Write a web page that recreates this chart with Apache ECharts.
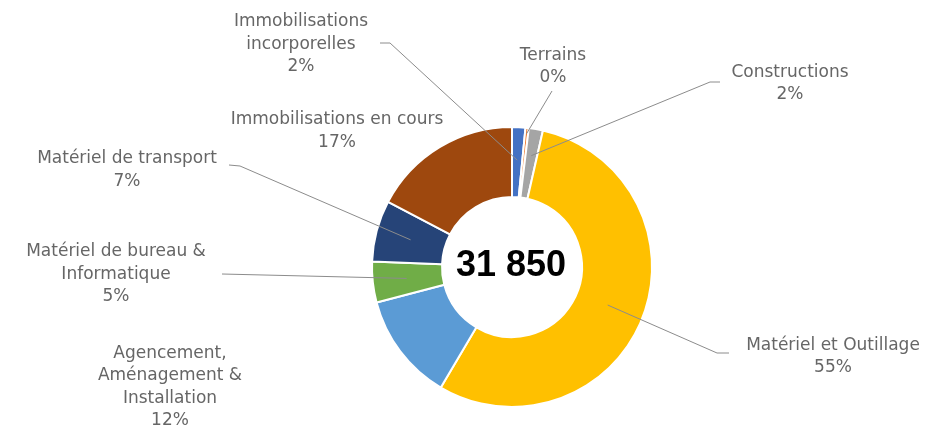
<!DOCTYPE html>
<html><head><meta charset="utf-8">
<script src="https://cdn.jsdelivr.net/npm/echarts@6/dist/echarts.min.js"></script>
<style>html,body{margin:0;padding:0;background:#fff}#c{width:931px;height:429px}</style>
</head><body><div id="c"></div>
<script>
// ---- data ----
const categories = ['Immobilisations incorporelles', 'Terrains', 'Constructions', 'Matériel et Outillage',
  'Agencement, Aménagement & Installation', 'Matériel de bureau & Informatique', 'Matériel de transport', 'Immobilisations en cours'];
const labelTexts = ['Immobilisations\nincorporelles', 'Terrains', 'Constructions', 'Matériel et Outillage',
  'Agencement,\nAménagement &\nInstallation', 'Matériel de bureau &\nInformatique', 'Matériel de transport', 'Immobilisations en cours'];
const values = [490, 120, 520, 17500, 3960, 1500, 2250, 5510];

// ---- style ----
const colors = ['#4472C4', '#ED7D31', '#A5A5A5', '#FFC000', '#5B9BD5', '#70AD47', '#264478', '#9E480E'];
const CX = 512, CY = 267, R_IN = 70, R_OUT = 140;
const labelPos = [
  { x: 301, y: 44.5, r: 107, line: [[390, 43], [380, 43]] },
  { x: 553, y: 66.5, r: 134, line: [[552, 91]] },
  { x: 790, y: 83.5, r: 113, line: [[710, 82], [720, 82]] },
  { x: 833, y: 356.5, r: 103, line: [[717, 353], [729, 353]] },
  { x: 170, y: 387, r: 105, line: null },
  { x: 116, y: 274.5, r: 106, line: [[222, 274]] },
  { x: 127, y: 170, r: 105, line: [[240, 166], [229, 165]] },
  { x: 337, y: 131, r: 105, line: null }
];

const total = values.reduce((a, b) => a + b, 0);
const totalText = String(total).replace(/\B(?=(\d{3})+(?!\d))/g, ' ');

const baseSeries = {
  type: 'pie',
  center: [CX, CY],
  radius: [R_IN, R_OUT],
  startAngle: 90,
  clockwise: true,
  avoidLabelOverlap: false,
  silent: true,
  emphasis: { disabled: true }
};

const chart = echarts.init(document.getElementById('c'), null, { renderer: 'canvas' });
chart.setOption({
  animation: false,
  backgroundColor: '#ffffff',
  graphic: [{
    type: 'text', x: 511, y: 266, z: 100,
    style: { text: totalText, textAlign: 'center', textVerticalAlign: 'middle',
      font: 'bold 36px "Liberation Sans", Arial, sans-serif', fill: '#000000' }
  }],
  series: [
    Object.assign({}, baseSeries, {
      z: 2,
      itemStyle: { borderColor: '#ffffff', borderWidth: 2 },
      label: { show: false },
      labelLine: { show: false },
      data: categories.map((name, i) => ({ name: name, value: values[i], itemStyle: { color: colors[i] } }))
    }),
    Object.assign({}, baseSeries, {
      z: 5,
      itemStyle: { color: 'rgba(0,0,0,0)', borderWidth: 0 },
      label: {
        show: true,
        position: 'outside',
        formatter: p => labelTexts[p.dataIndex] + '\n' + Math.round(values[p.dataIndex] / total * 100) + '%',
        color: '#666666',
        fontFamily: '"DejaVu Sans", sans-serif',
        fontSize: 17,
        lineHeight: 22.5,
        align: 'center'
      },
      labelLine: { show: true, showAbove: true, length: 10, length2: 10, lineStyle: { color: '#8c8c8c', width: 1 } },
      labelLayout: function (params) {
        const i = params.dataIndex;
        const p = labelPos[i];
        const res = { x: p.x, y: p.y, align: 'center', verticalAlign: 'middle' };
        if (p.line && params.labelLinePoints) {
          const p0 = params.labelLinePoints[0];
          const k = p.r / R_OUT;
          const s = [CX + (p0[0] - CX) * k, CY + (p0[1] - CY) * k];
          res.labelLinePoints = [s].concat(p.line);
        }
        return res;
      },
      data: categories.map((name, i) => ({
        name: name,
        value: values[i],
        labelLine: { show: labelPos[i].line !== null }
      }))
    })
  ]
});
</script>
</body></html>
